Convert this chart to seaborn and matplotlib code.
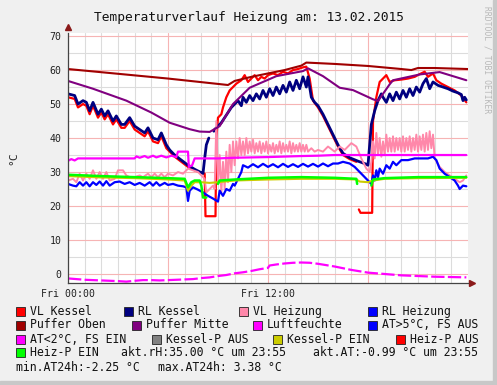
import numpy as np
import pandas as pd
import matplotlib
matplotlib.use("Agg")
import matplotlib.pyplot as plt
from matplotlib.patches import Rectangle
import seaborn as sns

# ---- data (hours since Fri 00:00, temperatures in degC) ----
nan = np.nan

vl_kessel_h = [0, 0.4, 0.6, 0.9, 1.1, 1.3, 1.5, 1.8, 2.0, 2.2, 2.4, 2.7, 2.9, 3.2, 3.4, 3.7, 4.0, 4.3, 4.6, 4.8,
               5.1, 5.4, 5.6, 5.9, 6.1, 6.4, 6.8, 7.2, 7.6, 8.0, 8.2, 8.25, 8.85, 8.9, 9.0, 9.2, 9.3, 9.5, 9.7, 9.9,
               10.1, 10.4, 10.6, 10.8, 11.0, 11.2, 11.4, 11.6, 11.8, 12.0, 12.3, 12.6, 12.9, 13.2, 13.5, 13.8, 14.1,
               14.3, 14.5, 14.7, 15.0, 15.3, 15.6, 15.9, 16.2, 16.5, 16.9, 17.3, 17.37, 17.45, 17.55, 18.25, 18.3,
               18.5, 18.7, 18.9, 19.1, 19.3, 19.6, 20.0, 20.4, 20.8, 21.1, 21.4, 21.6, 21.9, 22.1, 22.4, 22.8, 23.2,
               23.6, 23.9]
vl_kessel_v = [52.0, 51.5, 49.0, 50.0, 49.5, 47.0, 49.5, 46.0, 47.5, 45.5, 47.0, 44.0, 45.5, 43.0, 43.0, 45.0, 42.5,
               41.5, 40.5, 42.0, 39.0, 38.5, 40.5, 37.0, 36.0, 34.5, 33.0, 31.5, 30.5, 29.8, 29.5, 17.0, 17.0, 40.0,
               46.0, 47.0, 49.0, 52.0, 54.0, 55.0, 56.0, 57.0, 58.5, 56.5, 57.5, 58.5, 57.0, 58.0, 57.5, 58.5, 59.0,
               58.5, 59.5, 59.0, 60.0, 60.3, 60.8, 61.0, 57.5, 51.0, 49.0, 46.5, 43.5, 40.5, 37.5, 35.0, 33.8, 33.0,
               nan, 19.0, 18.0, 18.0, 45.0, 52.0, 56.5, 57.5, 58.5, 56.5, 57.0, 57.2, 57.5, 58.0, 58.8, 59.5, 58.0,
               59.0, 57.0, 56.0, 55.0, 54.0, 52.5, 50.5]

rl_kessel_h = [0, 0.4, 0.6, 0.9, 1.1, 1.3, 1.5, 1.8, 2.0, 2.2, 2.4, 2.7, 2.9, 3.2, 3.4, 3.7, 4.0, 4.3, 4.6, 4.8,
               5.1, 5.4, 5.6, 5.9, 6.1, 6.4, 6.8, 7.2, 7.6, 8.0, 8.1, 8.2, 8.3, 8.45, 8.5, 8.75, 8.8, 9.0, 9.2, 9.4,
               9.6, 9.8, 10.0, 10.2, 10.4, 10.5, 10.7, 10.9, 11.1, 11.3, 11.5, 11.7, 11.9, 12.1, 12.3, 12.5, 12.7,
               12.9, 13.1, 13.3, 13.5, 13.7, 13.9, 14.1, 14.3, 14.4, 14.6, 14.8, 15.0, 15.3, 15.6, 15.9, 16.2, 16.5,
               16.9, 17.4, 17.9, 18.0, 18.1, 18.2, 18.4, 18.6, 18.8, 18.9, 19.1, 19.3, 19.5, 19.7, 19.9, 20.1, 20.3,
               20.5, 20.7, 20.9, 21.1, 21.3, 21.5, 21.7, 21.9, 22.2, 22.5, 22.8, 23.1, 23.4, 23.6, 23.7, 23.8, 23.9]
rl_kessel_v = [53.0, 52.5, 50.0, 51.0, 50.5, 48.0, 50.5, 47.0, 48.5, 46.5, 48.0, 45.0, 46.5, 44.0, 44.0, 46.0, 43.5,
               42.5, 41.5, 43.0, 40.0, 39.5, 41.5, 38.0, 36.5, 35.0, 33.5, 32.0, 30.8, 29.8, 29.6, 34.0, 38.0, 40.0,
               nan, 42.0, 42.5, 43.5, 44.5, 46.0, 47.5, 49.0, 50.0, 51.0, 49.5, 52.0, 50.5, 52.5, 51.0, 53.0, 51.5,
               54.0, 52.0, 54.5, 52.5, 55.0, 53.0, 55.5, 53.5, 56.5, 54.0, 57.0, 54.5, 58.0, 55.0, 58.0, 52.0, 50.5,
               49.5, 47.0, 44.0, 41.0, 38.0, 35.5, 34.2, 33.2, 32.3, 32.0, 38.0, 44.0, 48.0, 51.0, 53.0, 52.0, 50.5,
               53.0, 51.0, 53.5, 51.5, 54.0, 52.0, 54.5, 52.5, 55.0, 53.5, 56.0, 57.5, 54.5, 56.5, 55.5, 55.0, 54.5,
               53.8, 53.3, 52.8, 51.0, 52.0, 51.2]

vl_heizung_h = [0, 0.3, 0.5, 0.7, 0.9, 1.1, 1.3, 1.5, 1.7, 1.9, 2.1, 2.3, 2.5, 2.8, 3.0, 3.3, 3.5, 3.7, 4.0, 4.3,
                4.5, 4.8, 5.0, 5.2, 5.4, 5.6, 5.8, 6.0, 6.3, 6.6, 6.9, 7.2, 7.5, 7.8, 8.0, 8.2, 8.3, 8.5, 8.7, 8.8,
                8.9, 9.0, 9.1, 9.2, 9.3, 9.4, 9.5, 9.6, 9.7, 9.8, 9.9, 10.0, 10.1, 10.2, 10.3, 10.4, 10.5, 10.6,
                10.7, 10.8, 10.9, 11.0, 11.1, 11.2, 11.3, 11.4, 11.5, 11.6, 11.7, 11.8, 11.9, 12.0, 12.1, 12.2, 12.3,
                12.4, 12.5, 12.6, 12.7, 12.8, 12.9, 13.0, 13.1, 13.2, 13.3, 13.4, 13.5, 13.6, 13.7, 13.8, 13.9, 14.0,
                14.1, 14.2, 14.3, 14.4, 14.6, 14.8, 15.0, 15.3, 15.6, 16.0, 16.3, 16.6, 17.0, 17.3, 17.6, 17.9, 18.1,
                18.2, 18.3, 18.4, 18.5, 18.6, 18.7, 18.8, 18.9, 19.0, 19.1, 19.2, 19.3, 19.4, 19.5, 19.6, 19.7, 19.8,
                19.9, 20.0, 20.1, 20.2, 20.3, 20.4, 20.5, 20.6, 20.7, 20.8, 20.9, 21.0, 21.1, 21.2, 21.3, 21.4, 21.5,
                21.6, 21.7, 21.8, 21.9, 22.0, 22.3, 22.6, 22.9, 23.2, 23.5, 23.7, 23.9]
vl_heizung_v = [27.5, 28.0, 27.0, 29.5, 27.5, 29.5, 28.0, 30.5, 28.0, 30.0, 28.0, 30.0, 27.5, 28.0, 30.5, 30.5, 29.0,
                28.5, 28.5, 29.0, 28.5, 29.5, 28.5, 29.5, 28.5, 29.5, 28.5, 29.5, 29.0, 30.0, 29.5, 31.0, 30.5, 30.0,
                29.0, 28.0, 24.0, 25.0, 26.0, 25.0, 45.0, 27.0, 35.0, 24.0, 33.0, 25.0, 36.0, 27.0, 38.0, 30.0, 39.0,
                32.0, 39.0, 34.0, 40.0, 35.0, 39.0, 35.0, 40.0, 35.5, 39.0, 36.0, 39.5, 35.5, 38.5, 36.0, 39.0, 35.5,
                38.5, 36.0, 39.0, 35.5, 38.0, 36.0, 38.5, 35.5, 38.0, 36.0, 39.0, 35.5, 38.5, 36.0, 38.0, 36.0, 39.0,
                35.5, 38.5, 36.0, 38.0, 36.0, 38.5, 36.0, 38.0, 36.0, 38.0, 36.0, 37.0, 36.0, 36.5, 36.0, 37.5, 36.0,
                37.5, 36.5, 38.5, 37.5, 34.0, 31.0, 30.0, 33.0, 39.0, 34.0, 41.5, 35.0, 40.0, 34.5, 39.0, 35.0, 41.0,
                36.0, 40.0, 36.0, 40.5, 36.0, 40.0, 36.5, 40.0, 36.0, 40.5, 36.0, 40.0, 36.5, 40.5, 36.0, 40.0, 36.5,
                41.0, 36.0, 40.5, 36.5, 41.0, 36.0, 41.5, 36.5, 42.0, 37.0, 41.0, 34.0, 31.5, 30.0, 29.0, 28.0, 27.0,
                27.5, 29.0]

rl_heizung_h = [0, 0.3, 0.5, 0.7, 0.9, 1.1, 1.3, 1.5, 1.7, 1.9, 2.1, 2.3, 2.5, 2.8, 3.1, 3.4, 3.7, 4.0, 4.3, 4.6,
                4.9, 5.1, 5.3, 5.5, 5.8, 6.0, 6.3, 6.6, 6.9, 7.1, 7.2, 7.3, 7.5, 7.8, 8.1, 8.4, 8.7, 9.0, 9.1, 9.3,
                9.5, 9.7, 9.9, 10.0, 10.2, 10.4, 10.5, 10.8, 11.1, 11.4, 11.7, 12.0, 12.3, 12.6, 12.9, 13.2, 13.5,
                13.8, 14.1, 14.4, 14.7, 15.0, 15.3, 15.6, 15.9, 16.2, 16.5, 16.9, 17.2, 17.6, 18.0, 18.2, 18.3, 18.4,
                18.5, 18.6, 18.7, 18.9, 19.1, 19.3, 19.5, 19.7, 20.0, 20.4, 20.8, 21.2, 21.6, 21.9, 22.1, 22.3, 22.6,
                22.9, 23.2, 23.4, 23.5, 23.7, 23.9]
rl_heizung_v = [26.5, 26.0, 25.8, 27.0, 26.0, 27.0, 25.8, 27.0, 26.2, 27.2, 26.0, 27.3, 26.0, 27.0, 27.2, 26.5, 27.0,
                26.2, 26.8, 26.0, 27.0, 26.0, 27.0, 26.0, 26.8, 26.2, 26.5, 26.0, 25.8, 25.5, 21.5, 24.5, 25.5, 24.8,
                24.0, 23.0, 22.2, 21.3, 24.5, 23.0, 25.0, 24.5, 26.5, 26.0, 28.0, 30.0, 32.0, 31.3, 32.3, 31.4, 32.4,
                31.5, 32.3, 31.4, 32.4, 31.5, 32.3, 31.5, 32.4, 31.6, 32.4, 31.6, 32.5, 31.7, 32.5, 32.5, 33.0, 32.5,
                31.5, 29.5, 27.5, 26.5, 29.0, 27.5, 30.5, 28.5, 31.0, 29.5, 32.0, 31.0, 33.0, 32.0, 33.5, 33.5, 34.0,
                34.0, 34.0, 34.5, 33.5, 31.0, 29.5, 28.5, 27.5, 26.0, 25.0, 26.0, 25.8]

puffer_oben_h = [0, 3, 6, 9.6, 10.0, 11, 12, 13, 14, 14.3, 16, 18, 20, 20.6, 21, 22, 24]
puffer_oben_v = [60.3, 58.9, 57.5, 55.6, 56.8, 58.0, 59.0, 60.0, 61.3, 62.2, 61.8, 61.2, 60.3, 60.0, 60.6, 60.6, 60.3]

puffer_mitte_h = [0, 1.5, 3.5, 5, 6.1, 7.3, 7.9, 8.5, 9.1, 9.9, 10.9, 12.5, 14.1, 14.4, 15.3, 16.3, 17.1, 18.3,
                  18.6, 19.3, 19.5, 21.1, 22.3, 23.9]
puffer_mitte_v = [56.8, 54.5, 51.0, 47.5, 44.5, 42.6, 41.9, 41.8, 43.5, 50.0, 54.8, 58.2, 59.7, 60.5, 58.2, 54.8,
                  54.1, 51.4, 50.9, 55.8, 57.0, 58.7, 59.4, 57.0]

luftfeuchte_h = [0, 0.2, 0.4, 0.6, 2, 4.0, 4.1, 4.3, 4.6, 4.8, 5.1, 5.3, 5.6, 5.9, 6.2, 6.5, 6.6, 7.2, 7.25, 7.45,
                 7.6, 9, 10, 12, 14, 15, 16, 18, 20, 22, 23.9]
luftfeuchte_v = [33.3, 33.8, 33.4, 34.0, 34.0, 34.0, 34.6, 34.2, 34.7, 34.2, 34.8, 34.3, 34.8, 34.3, 34.8, 34.4,
                 36.0, 36.0, 31.5, 32.0, 34.0, 34.0, 34.2, 34.4, 34.7, 34.8, 35.0, 35.0, 35.0, 35.0, 35.0]

at_h = [0, 0.5, 1, 1.5, 2, 2.5, 3, 3.5, 4, 4.5, 5, 5.5, 6, 6.5, 7, 7.5, 8, 8.5, 9, 9.5, 10, 10.5, 11, 11.5, 12,
        12.1, 12.5, 13, 13.5, 14, 14.5, 15, 15.5, 16, 16.5, 17, 17.5, 18, 18.5, 19, 19.5, 20, 20.5, 21, 21.5, 22,
        22.5, 23, 23.5, 23.9]
at_v = [-1.3, -1.5, -1.7, -1.8, -1.9, -2.0, -2.1, -2.25, -2.0, -1.8, -1.8, -1.9, -1.8, -1.7, -1.6, -1.5, -1.2,
        -1.0, -0.6, -0.3, 0.2, 0.5, 0.9, 1.4, 1.8, 2.5, 2.8, 3.1, 3.3, 3.38, 3.3, 3.0, 2.6, 2.2, 1.7, 1.2, 0.8, 0.4,
        0.2, 0.0, -0.2, -0.4, -0.5, -0.6, -0.7, -0.8, -0.85, -0.9, -0.95, -0.99]

kessel_p_ein_h = [0, 2, 4, 6, 7.0, 7.2, 7.4, 7.6, 8.0, 8.5, 9.0, 10, 12, 14, 16, 17.3, 17.5, 18.0, 18.3, 19, 21, 23.9]
kessel_p_ein_v = [28.8, 28.4, 28.2, 27.8, 27.5, 24.5, 26.0, 27.0, 27.0, 26.8, 27.0, 27.5, 27.8, 28.0, 28.0, 27.8,
                  27.2, 27.0, 27.5, 28.0, 28.2, 28.3]

heiz_p_ein_h = [0, 2, 4, 6, 7.0, 7.2, 7.4, 7.6, 7.9, 8.0, 8.1, 8.3, 8.35, 9.0, 9.1, 10, 12, 14, 16, 17.3, 17.35,
                17.4, 18.2, 18.3, 19, 21, 23.9]
heiz_p_ein_v = [29.2, 28.8, 28.5, 28.2, 28.0, 25.5, 27.0, 27.5, 27.5, 26.0, 22.5, 22.5, nan, 26.5, 27.5, 27.8, 28.3,
                28.5, 28.3, 28.0, 26.5, nan, 26.0, 27.8, 28.2, 28.5, 28.5]

legend_rows = [
    [("VL Kessel", "#ff0000"), ("RL Kessel", "#000080"), ("VL Heizung", "#ff88aa"), ("RL Heizung", "#0000ff")],
    [("Puffer Oben", "#a00000"), ("Puffer Mitte", "#800080"), ("Luftfeuchte", "#ff00ff"),
     ("AT>5°C, FS AUS", "#0000ff")],
    [("AT<2°C, FS EIN", "#ff00ff"), ("Kessel-P AUS", "#808080"), ("Kessel-P EIN", "#cccc00"),
     ("Heiz-P AUS", "#ff0000")],
    [("Heiz-P EIN", "#00ff00")],
]
info_row4 = ["akt.rH:35.00 °C um 23:55", "akt.AT:-0.99 °C um 23:55"]
info_row5 = ["min.AT24h:-2.25 °C", "max.AT24h: 3.38 °C"]
title = "Temperaturverlauf Heizung am: 13.02.2015"

# ---- figure ----
W, H = 497, 385
sns.set_style("white")
plt.rcParams["font.family"] = ["DejaVu Sans Mono", "DejaVu Sans"]

fig = plt.figure(figsize=(W / 100, H / 100), dpi=100, facecolor="#f0f0f0")
ax = fig.add_axes([68 / W, 1 - 283 / H, 400 / W, 250 / H])
ax.set_facecolor("white")


def fx(px):
    return px / W


def fy(py):
    return 1 - py / H


def draw(hours, vals, color, lw=1.5, **kw):
    df = pd.DataFrame({"h": hours, "v": vals})
    df["seg"] = df["v"].isna().cumsum()
    df = df.dropna()
    sns.lineplot(data=df, x="h", y="v", units="seg", estimator=None, color=color, lw=lw,
                 ax=ax, legend=False, sort=False, **kw)


draw(vl_kessel_h, vl_kessel_v, "#ff0000", 1.6)
draw(rl_kessel_h, rl_kessel_v, "#000080", 2.0)
draw(vl_heizung_h, vl_heizung_v, "#ff88aa", 1.4)
draw(rl_heizung_h, rl_heizung_v, "#0000ff", 1.6)
draw(puffer_oben_h, puffer_oben_v, "#a00000", 1.5)
draw(puffer_mitte_h, puffer_mitte_v, "#800080", 1.5)
draw(luftfeuchte_h, luftfeuchte_v, "#ff00ff", 1.6)
draw(at_h, at_v, "#ff00ff", 1.6, dashes=False, linestyle=(0, (6, 1.5)))
draw(kessel_p_ein_h, kessel_p_ein_v, "#cccc00", 1.5)
draw(heiz_p_ein_h, heiz_p_ein_v, "#00ff00", 1.8)

ax.set_xlim(0, 24)
ax.set_ylim(-2.65, 70.9)
ax.set_xticks([0, 6, 12, 18])
ax.set_xticklabels(["Fri 00:00", "", "Fri 12:00", ""])
ax.set_xticks(np.arange(0, 24, 1), minor=True)
ax.set_yticks(np.arange(0, 71, 10))
ax.set_yticks(np.arange(0, 71, 5), minor=True)
ax.grid(which="minor", color="#dcdcdc", lw=0.8)
ax.grid(which="major", color="#f6b4b4", lw=0.8)
ax.set_axisbelow(True)
ax.tick_params(which="both", direction="inout", length=3, width=0.6, color="#555555",
               labelsize=7.1, labelcolor="#222222")
ax.tick_params(axis="x", pad=3)
ax.tick_params(axis="y", pad=3)
ax.set_xlabel("")
ax.set_ylabel("°C", fontsize=8.2)
ax.yaxis.set_label_coords(-50 / 400, 0.5)

for s in ["top", "right"]:
    ax.spines[s].set_visible(False)
for s in ["left", "bottom"]:
    ax.spines[s].set_color("#444444")
    ax.spines[s].set_linewidth(0.9)
ax.plot([0], [1.025], marker="^", color="#8b1a1a", ms=4, transform=ax.transAxes, clip_on=False)
ax.plot([1.01], [0], marker=">", color="#8b1a1a", ms=4, transform=ax.transAxes, clip_on=False)

fig.text(0.5, fy(17), title, ha="center", va="center", fontsize=9.3, color="#111111")
fig.text(fx(487), fy(6), "RRDTOOL / TOBI OETIKER", rotation=270, ha="center", va="top",
         fontsize=5.8, color="#b8b8b8")

# frame shading
fig.patches.append(Rectangle((fx(493), 0), 4 / W, 1, transform=fig.transFigure, color="#c8c8c8", zorder=0))
fig.patches.append(Rectangle((0, 0), 1, 4 / H, transform=fig.transFigure, color="#c8c8c8", zorder=0))

# legend
row_y = [311.7, 325.0, 339.3, 352.7]
sw_x = [[16, 124, 239, 368], [16, 132, 253, 368], [16, 152, 273, 396], [16]]
for r, entries in enumerate(legend_rows):
    for c, (lab, col) in enumerate(entries):
        x0 = sw_x[r][c]
        fig.patches.append(Rectangle((fx(x0), fy(row_y[r] + 4.5)), 9 / W, 9 / H, transform=fig.transFigure,
                                     facecolor=col, edgecolor="#222222", lw=0.6))
        fig.text(fx(x0 + 14), fy(row_y[r]), lab, ha="left", va="center", fontsize=8.3, color="#111111")
for x0, lab in zip([121, 313], info_row4):
    fig.text(fx(x0), fy(352.7), lab, ha="left", va="center", fontsize=8.3, color="#111111")
for x0, lab in zip([16, 158], info_row5):
    fig.text(fx(x0), fy(367.3), lab, ha="left", va="center", fontsize=8.3, color="#111111")

fig.savefig("out.png", dpi=100, facecolor=fig.get_facecolor())
